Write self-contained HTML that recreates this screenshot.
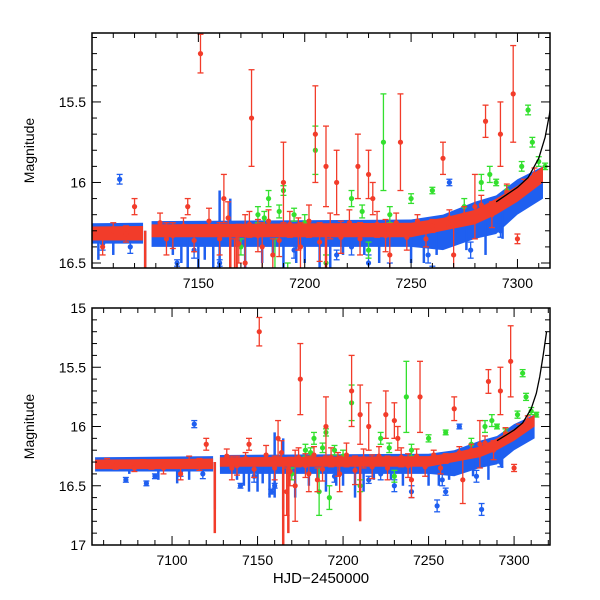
<!DOCTYPE html>
<html><head><meta charset="utf-8"><style>
body{margin:0;background:#fff}
svg{display:block;font-family:"Liberation Sans",sans-serif}
</style></head><body>
<svg id="chart" width="600" height="600" viewBox="0 0 600 600"></svg>
<script>
// [t, mag, err]
const bluePoints=[[7113,15.98,0.03],[7140,16.5,0.02],[7158,16.55,0.02],[7230,16.5,0.05],[7240,16.55,0.05],[7255,16.67,0.05],[7260,16.55,0.03],[7281,16.7,0.05],[7268,16.0,0.02],[7300,16.1,0.02],[7073,16.45,0.02],[7085,16.48,0.02],[7090,16.42,0.02],[7160,16.5,0.02],[7215,16.45,0.03],[7105,16.38,0.04],[7118,16.4,0.04],[7148,16.42,0.05],[7195,16.42,0.05],[7222,16.4,0.05],[7258,16.45,0.05],[7278,16.42,0.05],[7292,16.3,0.04]];
// [t, magTop, magBottom]
const blueSpikes=[[7103,16.3,16.48],[7110,16.3,16.45],[7125,16.3,16.7],[7138,16.3,16.45],[7145,16.3,16.55],[7150,16.3,16.55],[7157,16.3,16.6],[7160,16.05,16.6],[7165,16.1,16.7],[7172,16.3,16.6],[7180,16.3,16.5],[7190,16.3,16.55],[7200,16.3,16.5],[7207,16.3,16.6],[7212,16.3,16.55],[7218,16.3,16.45],[7235,16.3,16.5],[7250,16.3,16.5],[7262,16.3,16.45],[7285,16.25,16.45],[7092,16.3,16.45],[7075,16.3,16.4],[7142,16.3,16.5],[7153,16.3,16.48],[7185,16.3,16.45],[7196,16.3,16.5],[7228,16.3,16.45],[7256,16.3,16.5],[7276,16.2,16.42],[7293,16.1,16.35]];
// trend segments: [t, magTop, magBottom]
const blueTrend1=[[7055,16.26,16.38],[7124,16.25,16.38]];
const blueTrend2=[[7128,16.24,16.4],[7250,16.23,16.4],[7265,16.2,16.42],[7280,16.12,16.35],[7290,16.08,16.32],[7300,15.98,16.2],[7312,15.9,16.1]];
const redTrend1=[[7055,16.28,16.36],[7124,16.27,16.36]];
const redTrend2=[[7128,16.26,16.34],[7250,16.25,16.34],[7265,16.22,16.3],[7280,16.17,16.26],[7290,16.1,16.2],[7300,16.02,16.12],[7312,15.9,16.0]];
const redPoints=[[7151,15.2,0.12],[7175,15.6,0.3],[7162,16.1,0.15],[7205,15.7,0.3],[7210,15.9,0.25],[7225,15.9,0.2],[7230,15.95,0.15],[7245,15.75,0.3],[7265,15.85,0.1],[7285,15.62,0.1],[7292,15.7,0.2],[7298,15.45,0.3],[7190,16.0,0.25],[7215,16.0,0.2],[7167,16.55,0.2],[7172,16.5,0.3],[7180,16.4,0.15],[7120,16.15,0.05],[7135,16.35,0.1],[7300,16.35,0.03],[7270,16.45,0.2],[7198,16.4,0.15],[7240,16.45,0.15],[7257,16.35,0.05],[7185,16.45,0.1],[7232,16.1,0.1],[7280,16.15,0.2],[7145,16.15,0.05],[7105,16.4,0.05],[7062,16.3,0.03],[7078,16.35,0.03],[7088,16.33,0.03],[7095,16.35,0.05],
[7132,16.25,0.06],[7138,16.33,0.08],[7143,16.27,0.05],[7148,16.36,0.07],[7155,16.24,0.08],[7160,16.35,0.1],[7164,16.22,0.1],[7169,16.38,0.12],[7174,16.26,0.08],[7178,16.33,0.1],[7183,16.24,0.07],[7188,16.36,0.1],[7193,16.26,0.08],[7197,16.32,0.1],[7202,16.24,0.1],[7207,16.37,0.12],[7212,16.27,0.08],[7217,16.34,0.1],[7221,16.25,0.08],[7226,16.35,0.1],[7234,16.26,0.08],[7238,16.33,0.1],[7243,16.25,0.06],[7248,16.34,0.08],[7253,16.24,0.04],[7260,16.27,0.04],[7268,16.22,0.05],[7275,16.2,0.05],[7283,16.14,0.06],[7288,16.2,0.08],[7295,16.06,0.05],[7303,16.02,0.04],[7308,15.95,0.04],[7110,16.3,0.05],[7116,16.32,0.05],[7067,16.33,0.03],[7083,16.31,0.03]];
const redSpikes=[[7125,16.3,16.9],[7165,16.3,17.0],[7168,16.3,16.9],[7210,16.3,16.8]];
const greenPoints=[[7183,16.1,0.05],[7190,16.05,0.03],[7205,15.8,0.15],[7222,16.1,0.05],[7237,15.75,0.3],[7240,16.2,0.05],[7250,16.1,0.03],[7275,16.15,0.05],[7283,16.0,0.05],[7287,15.95,0.05],[7295,16.05,0.03],[7302,15.9,0.03],[7305,15.55,0.03],[7307,15.75,0.03],[7310,15.87,0.03],[7313,15.9,0.02],[7186,16.55,0.2],[7192,16.6,0.1],[7210,16.5,0.05],[7230,16.42,0.05],[7178,16.2,0.05],[7260,16.05,0.02],[7200,16.25,0.05],[7290,16.0,0.02],[7170,16.4,0.05],[7181,16.22,0.04],[7188,16.18,0.04],[7195,16.2,0.04],[7227,16.18,0.04]];
const modelCurve=[[7290,16.12],[7300,16.03],[7305,15.97],[7310,15.85],[7313,15.72],[7315,15.58],[7317,15.4],[7319,15.2]];
const topXTicks=[7150,7200,7250,7300];
const topYTicks=[15.5,16,16.5];
const botXTicks=[7100,7150,7200,7250,7300];
const botYTicks=[15,15.5,16,16.5,17];

const NS="http://www.w3.org/2000/svg";
const svg=document.getElementById('chart');
function mk(tag,attrs,parent){const e=document.createElementNS(NS,tag);for(const k in attrs)e.setAttribute(k,attrs[k]);(parent||svg).appendChild(e);return e;}
const BLUE="#1f5ff0",RED="#f23c2a",GREEN="#33e02e";

function panel(id,L,R,T,B,t0,t1,m0,m1,xt,yt,showXLabel){
  const X=t=>L+(t-t0)/(t1-t0)*(R-L);
  const Y=m=>T+(m-m0)/(m1-m0)*(B-T);
  const g=mk('g',{});
  
  
  const cp=mk('clipPath',{id:id+'-clip'},g);mk('rect',{x:L,y:T,width:R-L,height:B-T},cp);
  const d=mk('g',{'clip-path':'url(#'+id+'-clip)'},g);
  function trend(arr,col,name){const top=arr.map(p=>X(p[0])+','+Y(p[1]));const bot=arr.slice().reverse().map(p=>X(p[0])+','+Y(p[2]));
    const e=mk('polygon',{points:top.concat(bot).join(' '),fill:col},d);}
  function spikes(arr,col,name){arr.forEach(s=>{const l=mk('line',{x1:X(s[0]),x2:X(s[0]),y1:Y(s[1]),y2:Y(s[2]),stroke:col,'stroke-width':2.5},d);});}
  function pts(arr,col,name){arr.forEach(p=>{const x=X(p[0]),y=Y(p[1]),y1=Y(p[1]-p[2]),y2=Y(p[1]+p[2]);
    const pg=mk('g',{},d);
    mk('line',{x1:x,x2:x,y1:y1,y2:y2,stroke:col,'stroke-width':1.3},pg);
    mk('line',{x1:x-3,x2:x+3,y1:y1,y2:y1,stroke:col,'stroke-width':1.3},pg);
    mk('line',{x1:x-3,x2:x+3,y1:y2,y2:y2,stroke:col,'stroke-width':1.3},pg);
    mk('circle',{cx:x,cy:y,r:2.6,fill:col},pg);});}
  trend(blueTrend1,BLUE,'blue-band');trend(blueTrend2,BLUE,'blue-band');
  spikes(blueSpikes,BLUE,'blue-spike');pts(bluePoints,BLUE,'blue-point');
  pts(greenPoints,GREEN,'green-point');
  trend(redTrend1,RED,'red-band');trend(redTrend2,RED,'red-band');
  spikes(redSpikes,RED,'red-spike');pts(redPoints,RED,'red-point');
  const c=mk('polyline',{points:modelCurve.map(p=>X(p[0])+','+Y(p[1])).join(' '),fill:'none',stroke:'#000','stroke-width':1.3},d);
  
  mk('rect',{x:L,y:T,width:R-L,height:B-T,fill:'none',stroke:'#000','stroke-width':1.5},g);
  for(let t=Math.ceil(t0/10)*10;t<=t1;t+=10){const x=X(t),len=(t%50===0)?9:5;
    mk('line',{x1:x,x2:x,y1:B,y2:B-len,stroke:'#000','stroke-width':1},g);
    mk('line',{x1:x,x2:x,y1:T,y2:T+len,stroke:'#000','stroke-width':1},g);}
  for(let k=Math.ceil(m0*10);k<=m1*10+0.01;k++){const m=k/10,y=Y(m),len=(k%5===0)?9:5;
    mk('line',{x1:L,x2:L+len,y1:y,y2:y,stroke:'#000','stroke-width':1},g);
    mk('line',{x1:R,x2:R-len,y1:y,y2:y,stroke:'#000','stroke-width':1},g);}
  xt.forEach(t=>{const e=mk('text',{x:X(t),y:B+20,'text-anchor':'middle','font-size':14},g);e.textContent=t;});
  yt.forEach(m=>{const e=mk('text',{x:L-6,y:Y(m)+5,'text-anchor':'end','font-size':14},g);e.textContent=m;});
  const yl=mk('text',{x:0,y:0,transform:'translate('+(L-58)+','+((T+B)/2)+') rotate(-90)','text-anchor':'middle','font-size':14},g);
  yl.textContent='Magnitude';
  if(showXLabel){const xl=mk('text',{x:(L+R)/2,y:B+38,'text-anchor':'middle','font-size':15},g);xl.textContent='HJD\u22122450000';}
}
panel('top-panel',92,550,33,268,7100,7315.3,15.072,16.531,topXTicks,topYTicks,false);
panel('bottom-panel',92,550,308,545,7053.2,7321,15,17,botXTicks,botYTicks,true);
</script>
</body></html>
